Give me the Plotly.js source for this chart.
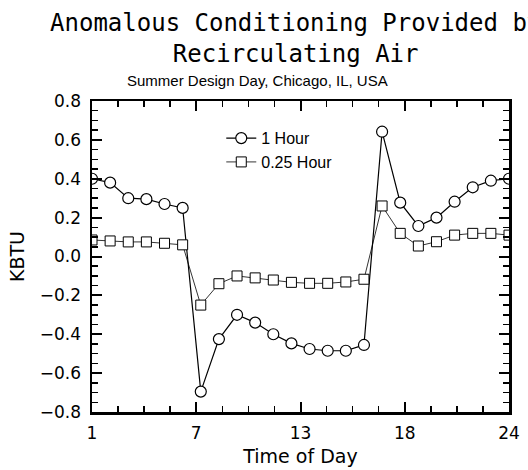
<!DOCTYPE html>
<html>
<head>
<meta charset="utf-8">
<script src="https://cdn.plot.ly/plotly-3.0.1.min.js"></script>
<style>html,body{margin:0;padding:0;background:#fff;}#chart{width:528px;height:470px;}</style>
</head>
<body>
<div id="chart"></div>
<script>
// Data
var hours = [1,2,3,4,5,6,7,8,9,10,11,12,13,14,15,16,17,18,19,20,21,22,23,24];
var oneHour = [0.40, 0.38, 0.30, 0.295, 0.27, 0.25, -0.695, -0.425, -0.30, -0.34, -0.40, -0.447,
               -0.476, -0.485, -0.485, -0.455, 0.642, 0.277, 0.157, 0.20, 0.282, 0.356, 0.39, 0.40];
var quarterHour = [0.085, 0.08, 0.075, 0.075, 0.068, 0.06, -0.25, -0.14, -0.10, -0.11, -0.121, -0.133,
                   -0.138, -0.138, -0.131, -0.117, 0.26, 0.119, 0.054, 0.076, 0.11, 0.119, 0.119, 0.11];
var seriesNames = ["1 Hour", "0.25 Hour"];
var xTickVals = [1, 6.75, 12.5, 18.25, 24];
var xTickText = ["1", "7", "13", "18", "24"];

var traces = [
  {
    x: hours, y: oneHour, name: seriesNames[0], type: "scatter", mode: "lines+markers",
    line: {color: "#000", width: 1.2},
    marker: {symbol: "circle", size: 11, color: "#fff", line: {color: "#000", width: 1.2}}
  },
  {
    x: hours, y: quarterHour, name: seriesNames[1], type: "scatter", mode: "lines+markers",
    line: {color: "#000", width: 0.8},
    marker: {symbol: "square", size: 10, color: "#fff", line: {color: "#000", width: 1}}
  }
];

var tickFont = {family: "DejaVu Sans", size: 17, color: "#000"};

var layout = {
  width: 528, height: 470,
  paper_bgcolor: "#fff", plot_bgcolor: "#fff",
  margin: {l: 92, r: 19, t: 101, b: 58},
  showlegend: true,
  legend: {
    x: 0.31, y: 0.935, xanchor: "left", yanchor: "top",
    bgcolor: "rgba(0,0,0,0)", borderwidth: 0,
    font: {family: "Liberation Sans", size: 16, color: "#000"}
  },
  title: {
    text: "Anomalous Conditioning Provided by<br>Recirculating Air",
    font: {family: "DejaVu Sans Mono", size: 24, color: "#000"},
    xref: "container", x: 0.56, xanchor: "center",
    yref: "container", y: 0.935, yanchor: "top"
  },
  annotations: [
    {
      text: "Summer Design Day, Chicago, IL, USA",
      xref: "paper", yref: "paper", x: (258 - 92) / 417.5, y: 1.0, xanchor: "center", yanchor: "bottom",
      yshift: 10, showarrow: false,
      font: {family: "Liberation Sans", size: 15, color: "#000"}
    }
  ],
  xaxis: {
    range: [1, 24],
    tickmode: "array", tickvals: xTickVals, ticktext: xTickText,
    ticks: "inside", ticklen: 10, tickwidth: 2, tickcolor: "#000",
    minor: {tickmode: "linear", tick0: 1, dtick: 1.4375, ticks: "inside", ticklen: 6, tickwidth: 1.5, tickcolor: "#000", showgrid: false},
    showline: true, linecolor: "#000", linewidth: 2.5, mirror: "ticks",
    showgrid: false, zeroline: false,
    tickfont: tickFont, ticklabelstandoff: 4,
    title: {text: "Time of Day", font: {family: "DejaVu Sans", size: 19, color: "#000"}, standoff: 8}
  },
  yaxis: {
    range: [-0.8, 0.8],
    tickmode: "linear", tick0: -0.8, dtick: 0.2, tickformat: ".1f",
    ticks: "inside", ticklen: 10, tickwidth: 2, tickcolor: "#000",
    minor: {tickmode: "linear", tick0: -0.8, dtick: 0.05, ticks: "inside", ticklen: 6, tickwidth: 1.5, tickcolor: "#000", showgrid: false},
    showline: true, linecolor: "#000", linewidth: 2.5, mirror: "ticks",
    showgrid: false, zeroline: false,
    tickfont: tickFont, ticklabelstandoff: 5,
    title: {text: "KBTU", font: {family: "DejaVu Sans", size: 19, color: "#000"}, standoff: 10}
  }
};

Plotly.newPlot("chart", traces, layout, {displayModeBar: false, staticPlot: true});
</script>
</body>
</html>
